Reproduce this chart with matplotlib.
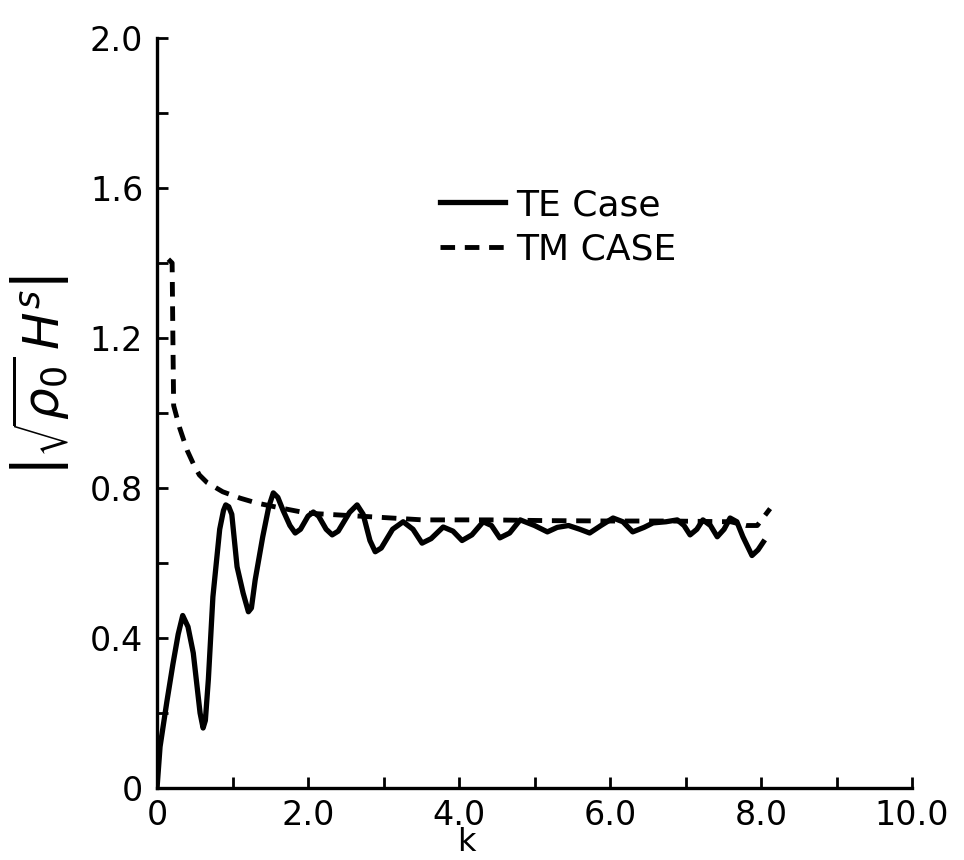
import matplotlib.pyplot as plt

# valores
te_k = [0.0, 0.04, 0.13, 0.21, 0.28, 0.34, 0.41, 0.48, 0.57, 0.61, 0.64, 0.68, 0.74,
        0.83, 0.88, 0.91, 0.95, 0.99, 1.06, 1.14, 1.21, 1.25, 1.30, 1.40, 1.48, 1.54,
        1.60, 1.67, 1.76, 1.83, 1.90, 2.00, 2.07, 2.14, 2.24, 2.32, 2.40, 2.55, 2.65,
        2.73, 2.82, 2.89, 2.97, 3.12, 3.26, 3.39, 3.51, 3.63, 3.79, 3.92, 4.04, 4.17,
        4.32, 4.43, 4.54, 4.67, 4.81, 5.00, 5.17, 5.30, 5.45, 5.60, 5.73, 5.88, 6.04,
        6.17, 6.30, 6.45, 6.57, 6.74, 6.89, 6.98, 7.06, 7.15, 7.23, 7.33, 7.42, 7.51,
        7.59, 7.68, 7.76, 7.88, 7.96, 8.03]
te_val = [0.0, 0.11, 0.23, 0.33, 0.41, 0.46, 0.43, 0.36, 0.20, 0.16, 0.18, 0.29, 0.51,
          0.69, 0.74, 0.755, 0.75, 0.73, 0.59, 0.52, 0.47, 0.48, 0.555, 0.67, 0.75, 0.787,
          0.775, 0.74, 0.70, 0.68, 0.69, 0.725, 0.736, 0.725, 0.69, 0.675, 0.685, 0.735, 0.755,
          0.73, 0.66, 0.63, 0.64, 0.69, 0.71, 0.69, 0.653, 0.665, 0.696, 0.685, 0.66, 0.675,
          0.71, 0.70, 0.667, 0.68, 0.715, 0.70, 0.683, 0.695, 0.70, 0.69, 0.68, 0.70, 0.72,
          0.71, 0.683, 0.695, 0.707, 0.71, 0.715, 0.70, 0.675, 0.69, 0.715, 0.70, 0.67, 0.69,
          0.72, 0.71, 0.67, 0.62, 0.635, 0.656]

tm_k = [0.15, 0.20, 0.21, 0.22, 0.30, 0.40, 0.48, 0.56, 0.66, 0.87, 1.10, 1.32, 1.63,
        1.99, 2.42, 2.86, 3.52, 4.41, 5.20, 6.00, 6.80, 7.60, 7.80, 7.95, 8.12]
tm_val = [1.41, 1.40, 1.20, 1.02, 0.96, 0.90, 0.865, 0.835, 0.815, 0.79, 0.773, 0.76, 0.747,
          0.733, 0.728, 0.723, 0.715, 0.715, 0.713, 0.712, 0.712, 0.71, 0.70, 0.70, 0.745]

xticks = [0, 2, 4, 6, 8, 10]
xticklabels = ['0', '2.0', '4.0', '6.0', '8.0', '10.0']
yticks = [0, 0.4, 0.8, 1.2, 1.6, 2.0]
yticklabels = ['0', '0.4', '0.8', '1.2', '1.6', '2.0']

plt.rcParams['font.family'] = ['DejaVu Sans']

fig = plt.figure(figsize=(9.64, 8.6), dpi=100)
ax = fig.add_axes([0.1629, 0.0837, 0.7832, 0.8721])

ax.plot(te_k, te_val, color='black', lw=3.8, label='TE Case')
ax.plot(tm_k, tm_val, color='black', lw=3.5, dashes=(3.0, 2.0), label='TM CASE')

ax.set_xlim(0, 10)
ax.set_ylim(0, 2.0)
ax.spines['top'].set_visible(False)
ax.spines['right'].set_visible(False)
ax.spines['left'].set_linewidth(2.4)
ax.spines['bottom'].set_linewidth(2.4)

ax.set_xticks(xticks)
ax.set_xticklabels(xticklabels)
ax.set_xticks([1, 3, 5, 7, 9], minor=True)
ax.set_yticks(yticks)
ax.set_yticklabels(yticklabels)
ax.set_yticks([0.2, 0.6, 1.0, 1.4, 1.8], minor=True)
ax.tick_params(which='both', direction='in', length=8, width=2, labelsize=24, pad=10)
ax.tick_params(axis='x', pad=8)

ax.set_xlabel('k', fontsize=23)
ax.xaxis.set_label_coords(0.41, -0.084)
ax.xaxis.label.set_verticalalignment('baseline')
ax.set_ylabel(r'$\left|\sqrt{\rho_0}\,H^s\right|$', fontsize=36)
ax.yaxis.set_label_coords(-0.112, 0.55)

ax.legend(loc='upper left', bbox_to_anchor=(0.375, 0.8), frameon=False, fontsize=26,
          handlelength=1.8, handletextpad=0.3, labelspacing=0.3, borderpad=0,
          borderaxespad=0)

plt.savefig('out.png', dpi=100)
